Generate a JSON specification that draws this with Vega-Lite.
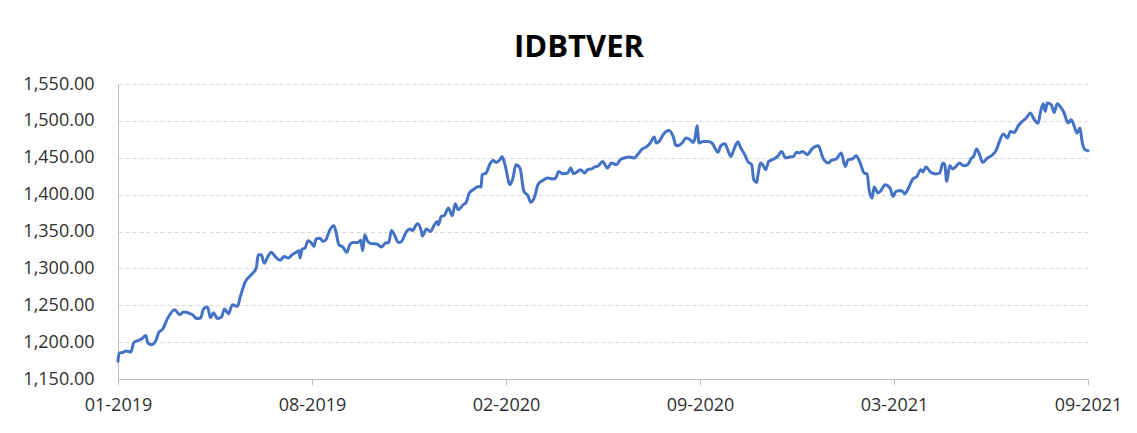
{
  "$schema": "https://vega.github.io/schema/vega-lite/v6.json",
  "width": 970,
  "height": 295,
  "autosize": "none",
  "padding": {"left": 118, "top": 84, "right": 49, "bottom": 54},
  "background": "white",
  "title": {"text": "IDBTVER", "font": "Open Sans", "fontSize": 31, "fontWeight": "bold", "color": "#000000", "anchor": "middle", "dx": -24, "offset": 11},
  "config": {
    "view": {"stroke": null},
    "axis": {"labelFont": "Open Sans", "labelFontSize": 18, "labelColor": "#303030", "domainColor": "#BFBFBF", "tickColor": "#BFBFBF", "title": null}
  },
  "data": {"values": [
    {"date":"2019-01-26","value":1174},{"date":"2019-01-27","value":1185},{"date":"2019-01-31","value":1186},{"date":"2019-02-03","value":1188},{"date":"2019-02-08","value":1186.6},
    {"date":"2019-02-11","value":1199.6},{"date":"2019-02-15","value":1202},{"date":"2019-02-19","value":1204.6},{"date":"2019-02-23","value":1209},{"date":"2019-02-25","value":1198.8},
    {"date":"2019-03-01","value":1196.5},{"date":"2019-03-05","value":1202},{"date":"2019-03-08","value":1213},{"date":"2019-03-12","value":1217.8},{"date":"2019-03-17","value":1232.7},
    {"date":"2019-03-24","value":1244},{"date":"2019-03-29","value":1237},{"date":"2019-04-02","value":1241},{"date":"2019-04-07","value":1239.5},{"date":"2019-04-11","value":1237},
    {"date":"2019-04-15","value":1232},{"date":"2019-04-19","value":1232.7},{"date":"2019-04-22","value":1245},{"date":"2019-04-26","value":1247.6},{"date":"2019-04-29","value":1233},
    {"date":"2019-05-02","value":1240},{"date":"2019-05-06","value":1232},{"date":"2019-05-10","value":1234},{"date":"2019-05-13","value":1245},{"date":"2019-05-17","value":1238.5},
    {"date":"2019-05-21","value":1250.7},{"date":"2019-05-26","value":1248.5},{"date":"2019-05-29","value":1262},{"date":"2019-06-03","value":1282},{"date":"2019-06-09","value":1291.4},
    {"date":"2019-06-14","value":1300.5},{"date":"2019-06-16","value":1318.5},{"date":"2019-06-19","value":1318.5},{"date":"2019-06-22","value":1307},{"date":"2019-06-26","value":1317},
    {"date":"2019-06-29","value":1321.7},{"date":"2019-07-03","value":1316},{"date":"2019-07-08","value":1311},{"date":"2019-07-12","value":1316},{"date":"2019-07-16","value":1314},
    {"date":"2019-07-20","value":1318.5},{"date":"2019-07-24","value":1321.7},{"date":"2019-07-27","value":1324},{"date":"2019-07-28","value":1314},{"date":"2019-07-30","value":1326},
    {"date":"2019-08-02","value":1327.6},{"date":"2019-08-05","value":1337.5},{"date":"2019-08-08","value":1335},{"date":"2019-08-11","value":1329.8},{"date":"2019-08-13","value":1339.8},
    {"date":"2019-08-17","value":1341},{"date":"2019-08-20","value":1336.6},{"date":"2019-08-23","value":1339},{"date":"2019-08-27","value":1352.5},{"date":"2019-08-31","value":1357.9},
    {"date":"2019-09-02","value":1350},{"date":"2019-09-05","value":1332},{"date":"2019-09-09","value":1329},{"date":"2019-09-13","value":1321.7},{"date":"2019-09-16","value":1332},
    {"date":"2019-09-19","value":1335},{"date":"2019-09-24","value":1335},{"date":"2019-09-27","value":1338},{"date":"2019-09-29","value":1324},{"date":"2019-10-01","value":1345.7},
    {"date":"2019-10-04","value":1336.6},{"date":"2019-10-08","value":1333.5},{"date":"2019-10-13","value":1333},{"date":"2019-10-18","value":1329},{"date":"2019-10-22","value":1334.4},
    {"date":"2019-10-25","value":1335},{"date":"2019-10-28","value":1351.5},{"date":"2019-10-31","value":1345},{"date":"2019-11-04","value":1335},{"date":"2019-11-07","value":1336.6},
    {"date":"2019-11-12","value":1350},{"date":"2019-11-15","value":1353.4},{"date":"2019-11-18","value":1351.5},{"date":"2019-11-23","value":1360.6},{"date":"2019-11-27","value":1350},
    {"date":"2019-11-28","value":1344},{"date":"2019-12-02","value":1353.4},{"date":"2019-12-06","value":1350},{"date":"2019-12-10","value":1359},{"date":"2019-12-13","value":1363.7},
    {"date":"2019-12-14","value":1359},{"date":"2019-12-17","value":1370.5},{"date":"2019-12-20","value":1371.4},{"date":"2019-12-24","value":1381.9},{"date":"2019-12-28","value":1371.4},
    {"date":"2019-12-31","value":1387.7},{"date":"2020-01-03","value":1379.6},{"date":"2020-01-08","value":1386.3},{"date":"2020-01-11","value":1389.5},{"date":"2020-01-14","value":1402},
    {"date":"2020-01-19","value":1407.6},{"date":"2020-01-23","value":1411},{"date":"2020-01-26","value":1410.4},{"date":"2020-01-27","value":1427},{"date":"2020-01-31","value":1429.3},
    {"date":"2020-02-04","value":1442},{"date":"2020-02-07","value":1446.4},{"date":"2020-02-10","value":1443.7},{"date":"2020-02-14","value":1447.4},{"date":"2020-02-16","value":1451.8},
    {"date":"2020-02-19","value":1440.6},{"date":"2020-02-24","value":1413.5},{"date":"2020-02-27","value":1422.6},{"date":"2020-03-01","value":1440.6},{"date":"2020-03-05","value":1436},
    {"date":"2020-03-09","value":1404.4},{"date":"2020-03-13","value":1398.6},{"date":"2020-03-16","value":1389.5},{"date":"2020-03-20","value":1398},{"date":"2020-03-23","value":1413.5},
    {"date":"2020-03-28","value":1419.3},{"date":"2020-04-02","value":1422.6},{"date":"2020-04-07","value":1421.2},{"date":"2020-04-10","value":1422.6},{"date":"2020-04-13","value":1431.5},
    {"date":"2020-04-17","value":1428.4},{"date":"2020-04-22","value":1429.3},{"date":"2020-04-25","value":1436},{"date":"2020-04-28","value":1428.4},{"date":"2020-05-02","value":1431.5},
    {"date":"2020-05-05","value":1433.8},{"date":"2020-05-09","value":1429.3},{"date":"2020-05-12","value":1433.8},{"date":"2020-05-16","value":1434.8},{"date":"2020-05-19","value":1437.5},
    {"date":"2020-05-23","value":1439.2},{"date":"2020-05-27","value":1445},{"date":"2020-06-01","value":1436},{"date":"2020-06-05","value":1442.9},{"date":"2020-06-10","value":1440.6},
    {"date":"2020-06-14","value":1447.4},{"date":"2020-06-18","value":1449.7},{"date":"2020-06-23","value":1451},{"date":"2020-06-28","value":1449.7},{"date":"2020-07-02","value":1455.5},
    {"date":"2020-07-06","value":1461.9},{"date":"2020-07-10","value":1464.6},{"date":"2020-07-14","value":1470},{"date":"2020-07-18","value":1478.2},{"date":"2020-07-20","value":1470},
    {"date":"2020-07-23","value":1472.2},{"date":"2020-07-27","value":1481.3},{"date":"2020-07-30","value":1485.7},{"date":"2020-08-02","value":1487.1},{"date":"2020-08-06","value":1479},
    {"date":"2020-08-09","value":1466.4},{"date":"2020-08-12","value":1467},{"date":"2020-08-15","value":1470},{"date":"2020-08-19","value":1476.8},{"date":"2020-08-23","value":1474.5},
    {"date":"2020-08-26","value":1470.8},{"date":"2020-08-28","value":1476.8},{"date":"2020-08-30","value":1493.5},{"date":"2020-09-01","value":1470},{"date":"2020-09-05","value":1472.2},
    {"date":"2020-09-10","value":1472.2},{"date":"2020-09-14","value":1470},{"date":"2020-09-17","value":1463.2},{"date":"2020-09-20","value":1457.3},{"date":"2020-09-23","value":1466.4},
    {"date":"2020-09-27","value":1469},{"date":"2020-09-30","value":1460},{"date":"2020-10-03","value":1451.8},{"date":"2020-10-06","value":1461},{"date":"2020-10-10","value":1471.4},
    {"date":"2020-10-13","value":1463.2},{"date":"2020-10-17","value":1454.2},{"date":"2020-10-20","value":1445},{"date":"2020-10-24","value":1440.6},{"date":"2020-10-26","value":1420.3},
    {"date":"2020-10-29","value":1416.6},{"date":"2020-10-30","value":1424.7},{"date":"2020-11-02","value":1442.9},{"date":"2020-11-04","value":1440.6},{"date":"2020-11-07","value":1433.8},
    {"date":"2020-11-10","value":1445},{"date":"2020-11-14","value":1447.4},{"date":"2020-11-19","value":1451.8},{"date":"2020-11-23","value":1458.6},{"date":"2020-11-27","value":1449.7},
    {"date":"2020-12-01","value":1451},{"date":"2020-12-05","value":1451.8},{"date":"2020-12-08","value":1457.3},{"date":"2020-12-11","value":1456.5},{"date":"2020-12-14","value":1458.6},
    {"date":"2020-12-19","value":1454.2},{"date":"2020-12-23","value":1461},{"date":"2020-12-27","value":1465.4},{"date":"2020-12-30","value":1466.4},{"date":"2021-01-03","value":1451.8},
    {"date":"2021-01-05","value":1446.4},{"date":"2021-01-09","value":1442.9},{"date":"2021-01-12","value":1446.4},{"date":"2021-01-17","value":1448.3},{"date":"2021-01-22","value":1456.5},
    {"date":"2021-01-26","value":1438.3},{"date":"2021-01-29","value":1447.4},{"date":"2021-02-02","value":1448.3},{"date":"2021-02-06","value":1452.8},{"date":"2021-02-10","value":1442.9},
    {"date":"2021-02-14","value":1429.3},{"date":"2021-02-17","value":1428},{"date":"2021-02-19","value":1406.7},{"date":"2021-02-22","value":1395.4},{"date":"2021-02-24","value":1410.4},
    {"date":"2021-02-28","value":1402.2},{"date":"2021-03-03","value":1405.7},{"date":"2021-03-07","value":1413.5},{"date":"2021-03-12","value":1409},{"date":"2021-03-15","value":1397.6},
    {"date":"2021-03-18","value":1404.4},{"date":"2021-03-23","value":1405.7},{"date":"2021-03-27","value":1401.3},{"date":"2021-03-31","value":1410.4},{"date":"2021-04-04","value":1421.2},
    {"date":"2021-04-08","value":1424.7},{"date":"2021-04-12","value":1433.8},{"date":"2021-04-14","value":1430.7},{"date":"2021-04-17","value":1437.5},{"date":"2021-04-22","value":1430.2},
    {"date":"2021-04-27","value":1428},{"date":"2021-05-01","value":1429.3},{"date":"2021-05-04","value":1442.9},{"date":"2021-05-06","value":1440.6},{"date":"2021-05-08","value":1418},
    {"date":"2021-05-11","value":1439.2},{"date":"2021-05-14","value":1434.8},{"date":"2021-05-18","value":1439.2},{"date":"2021-05-21","value":1442.9},{"date":"2021-05-25","value":1439.2},
    {"date":"2021-05-29","value":1440.6},{"date":"2021-06-02","value":1449.7},{"date":"2021-06-04","value":1451.8},{"date":"2021-06-07","value":1461.9},{"date":"2021-06-10","value":1454.2},
    {"date":"2021-06-13","value":1443.7},{"date":"2021-06-18","value":1449.7},{"date":"2021-06-22","value":1452.8},{"date":"2021-06-27","value":1461},{"date":"2021-06-30","value":1472.2},
    {"date":"2021-07-04","value":1482.2},{"date":"2021-07-08","value":1476.8},{"date":"2021-07-11","value":1485.7},{"date":"2021-07-15","value":1484.4},{"date":"2021-07-19","value":1493.5},
    {"date":"2021-07-23","value":1499.3},{"date":"2021-07-27","value":1503.9},{"date":"2021-07-31","value":1510.7},{"date":"2021-08-04","value":1501.6},{"date":"2021-08-08","value":1497.1},
    {"date":"2021-08-10","value":1510.7},{"date":"2021-08-13","value":1523.3},{"date":"2021-08-15","value":1512.9},{"date":"2021-08-17","value":1524.3},{"date":"2021-08-21","value":1522},
    {"date":"2021-08-24","value":1511.5},{"date":"2021-08-27","value":1523.3},{"date":"2021-08-31","value":1517.5},{"date":"2021-09-03","value":1510.7},{"date":"2021-09-07","value":1497.1},
    {"date":"2021-09-10","value":1501.6},{"date":"2021-09-13","value":1493.5},{"date":"2021-09-16","value":1483.6},{"date":"2021-09-19","value":1490.4},{"date":"2021-09-21","value":1472.2},
    {"date":"2021-09-24","value":1461},{"date":"2021-09-27","value":1459.6}
  ]},
  "mark": {"type": "line", "color": "#4472C4", "strokeWidth": 3, "interpolate": "monotone", "strokeCap": "round", "strokeJoin": "round"},
  "encoding": {
    "x": {
      "field": "date", "type": "temporal",
      "scale": {"type": "utc", "nice": false, "domain": [{"year": 2019, "month": 1, "date": 26, "utc": true}, {"year": 2021, "month": 9, "date": 27, "utc": true}]},
      "axis": {
        "values": [
          {"year": 2019, "month": 1, "date": 26, "utc": true},
          {"year": 2019, "month": 8, "date": 9, "utc": true},
          {"year": 2020, "month": 2, "date": 20, "utc": true},
          {"year": 2020, "month": 9, "date": 2, "utc": true},
          {"year": 2021, "month": 3, "date": 16, "utc": true},
          {"year": 2021, "month": 9, "date": 27, "utc": true}
        ],
        "labelExpr": "utcFormat(datum.value, '%m-%Y')",
        "grid": false, "tickSize": 6, "labelPadding": 11, "labelFlush": false, "labelOverlap": false
      }
    },
    "y": {
      "field": "value", "type": "quantitative",
      "scale": {"domain": [1150, 1550], "nice": false, "zero": false},
      "axis": {
        "values": [1150, 1200, 1250, 1300, 1350, 1400, 1450, 1500, 1550],
        "format": ",.2f", "ticks": false, "labelPadding": 24,
        "gridColor": "#D9D9D9", "gridDash": [4, 3], "gridWidth": 1
      }
    }
  }
}
